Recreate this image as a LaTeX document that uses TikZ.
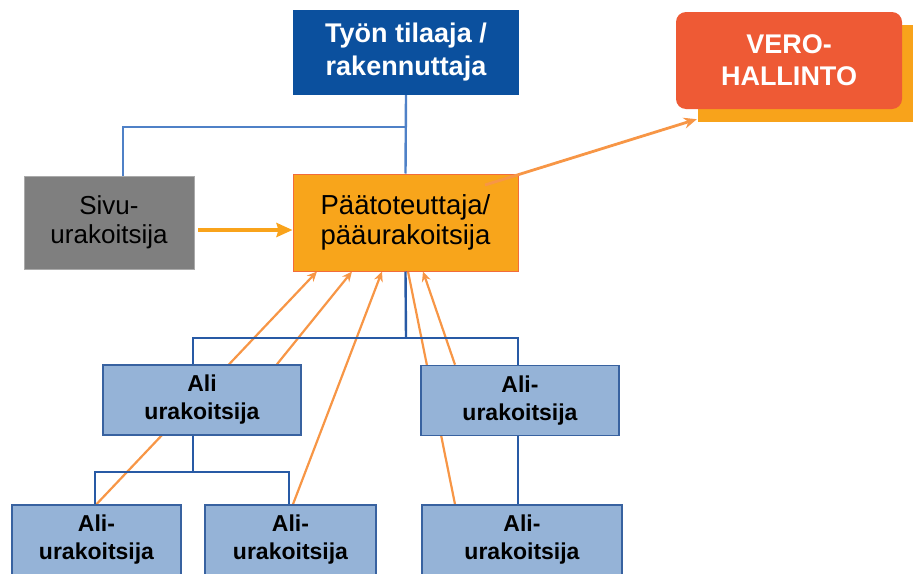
\documentclass[tikz,border=0pt]{standalone}
\usepackage{fontspec}
\setmainfont{Liberation Sans}
\usetikzlibrary{arrows.meta,backgrounds}
\definecolor{topblue}{RGB}{11,80,158}
\definecolor{verored}{RGB}{238,90,53}
\definecolor{shadoworange}{RGB}{248,163,27}
\definecolor{ppfill}{RGB}{248,165,27}
\definecolor{ppborder}{RGB}{242,108,58}
\definecolor{sivugray}{RGB}{127,127,127}
\definecolor{sivuborder}{RGB}{170,170,170}
\definecolor{alifill}{RGB}{149,179,215}
\definecolor{aliborder}{RGB}{56,98,160}
\definecolor{lineblue}{RGB}{79,129,199}
\definecolor{darkblue}{RGB}{40,90,165}
\definecolor{arroworange}{RGB}{247,150,70}
\definecolor{sivuarrow}{RGB}{249,163,27}
\begin{document}
\begin{tikzpicture}[x=1pt,y=-1pt,
  box/.style={rectangle, inner sep=0pt, align=center},
  topbox/.style={box, fill=topblue, minimum width=226pt, minimum height=85pt, text=white, font=\fontsize{27}{33}\selectfont\bfseries},
  verobox/.style={box, fill=verored, rounded corners=10pt, minimum width=226pt, minimum height=97pt, text=white, font=\fontsize{27}{32}\selectfont\bfseries},
  shadowbox/.style={box, fill=shadoworange, minimum width=227pt, minimum height=97pt},
  sivubox/.style={box, fill=sivugray, draw=sivuborder, line width=0.8pt, minimum width=170pt, minimum height=93pt, font=\fontsize{26}{29}\selectfont},
  ppbox/.style={box, fill=ppfill, draw=ppborder, line width=1pt, minimum width=225pt, minimum height=97pt, font=\fontsize{27.5}{29.5}\selectfont},
  alibox/.style={box, fill=alifill, draw=aliborder, line width=1.6pt, minimum height=70pt, font=\fontsize{23}{28}\selectfont\bfseries},
  upline/.style={draw=lineblue, line width=2.4pt},
  lowline/.style={draw=darkblue, line width=2.4pt},
  thinarrow/.style={draw=arroworange, line width=2.2pt, -{Stealth[length=10pt,width=9pt]}},
  thinline/.style={draw=arroworange, line width=2.2pt},
  veroarrow/.style={draw=arroworange, line width=2.8pt, -{Stealth[length=13pt,width=11pt]}},
  sivuarrowstyle/.style={draw=sivuarrow, line width=3.5pt, -{Stealth[length=16pt,width=14pt,inset=2pt]}}
]
\useasboundingbox (0,0) rectangle (913,573);

% nodes
\node[shadowbox] (vshadow) at (811.5,73.5) {};
\node[verobox] (vero) at (789,60.5) {VERO-\\HALLINTO};
\node[topbox] (top) at (406,52.5) {Työn tilaaja /\\rakennuttaja};
\node[sivubox] (sivu) at (109,222.5) {Sivu-\\urakoitsija};
\node[ppbox] (pp) at (405.5,222.5) {Päätoteuttaja/\\pääurakoitsija};
\node[alibox, minimum width=198pt] (ali1) at (202,400) {Ali\\urakoitsija};
\node[alibox, minimum width=198pt] (ali2) at (520,400.5) {Ali-\\urakoitsija};
\node[alibox, minimum width=169pt] (ali3) at (96.5,540) {Ali-\\urakoitsija};
\node[alibox, minimum width=171pt] (ali4) at (290.5,540) {Ali-\\urakoitsija};
\node[alibox, minimum width=200pt] (ali5) at (522,540) {Ali-\\urakoitsija};

% junction coordinates
\coordinate (j1) at (406,127);
\coordinate (j2) at (406,338);
\coordinate (j3) at (193,472);

% blue connectors
\draw[upline] (top.south) -- (pp.north);
\draw[upline] (j1) -| ([xshift=14pt]sivu.north);
\draw[lowline] (pp.south) -- (j2);
\draw[lowline] (j2) -| ([xshift=-9pt]ali1.north);
\draw[lowline] (j2) -| ([xshift=-2pt]ali2.north);
\draw[lowline] ([xshift=-9pt]ali1.south) -- (j3);
\draw[lowline] (j3) -| ([xshift=-1.5pt]ali3.north);
\draw[lowline] (j3) -| ([xshift=-1.5pt]ali4.north);
\draw[lowline] ([xshift=-2pt]ali2.south) -- ([xshift=-4pt]ali5.north);

% orange arrows behind the boxes
\begin{pgfonlayer}{background}
\draw[thinarrow] (ali3.north) -- ([xshift=-88.5pt]pp.south);
\draw[thinarrow] ([xshift=75pt]ali1.north) -- ([xshift=-53.5pt]pp.south);
\draw[thinarrow] ([xshift=2.5pt]ali4.north) -- ([xshift=-23.5pt]pp.south);
\draw[thinarrow] ([xshift=-65pt]ali2.north) -- ([xshift=17.5pt]pp.south);
\draw[thinline] ([xshift=-67pt]ali5.north) -- ([xshift=2.5pt]pp.south);
\end{pgfonlayer}

% Sivu arrow
\coordinate (sa) at (198,230);
\draw[sivuarrowstyle] (sa) -- (sa -| pp.west);

% Vero arrow
\coordinate (va) at (485,185);
\draw[veroarrow] (va) -- ([xshift=-1pt,yshift=3pt]vshadow.south west);
\end{tikzpicture}
\end{document}
